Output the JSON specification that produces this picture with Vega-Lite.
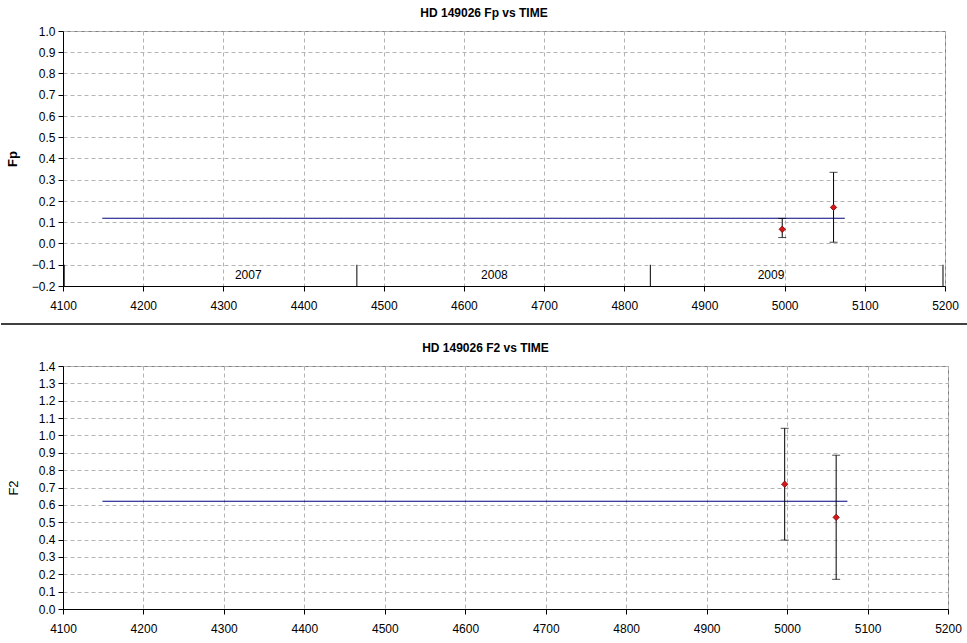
{
  "$schema": "https://vega.github.io/schema/vega-lite/v6.json",
  "padding": {"left": 0, "top": 6, "right": 0, "bottom": 0},
  "background": "white",
  "spacing": 11,
  "datasets": {
    "fp": [
      {"t": 4997, "v": 0.067, "lo": 0.028, "hi": 0.118},
      {"t": 5061, "v": 0.170, "lo": 0.006, "hi": 0.335}
    ],
    "fpfit": [
      {"t": 4149, "v": 0.119},
      {"t": 5075, "v": 0.119}
    ],
    "f2": [
      {"t": 4997, "v": 0.719, "lo": 0.397, "hi": 1.041},
      {"t": 5061, "v": 0.528, "lo": 0.171, "hi": 0.886}
    ],
    "f2fit": [
      {"t": 4149, "v": 0.621},
      {"t": 5075, "v": 0.621}
    ],
    "yearmarks": [
      {"t": 4101.5}, {"t": 4466.5}, {"t": 4832.5}, {"t": 5197.5}
    ],
    "years": [
      {"t": 4331, "year": "2007"},
      {"t": 4638, "year": "2008"},
      {"t": 4983, "year": "2009"}
    ],
    "separator": [
      {"name": "separator"}
    ]
  },
  "config": {
    "font": "Liberation Sans",
    "view": {"stroke": "#808080", "strokeWidth": 1},
    "axis": {
      "labelFont": "Liberation Sans",
      "labelFontSize": 12,
      "labelColor": "black",
      "labelOverlap": false,
      "domainColor": "black",
      "tickColor": "black",
      "tickSize": 5,
      "labelPadding": 3,
      "gridColor": "#b4b4b4",
      "gridDash": [4, 3],
      "gridWidth": 1,
      "titleFont": "Liberation Sans",
      "titleColor": "black"
    },
    "axisX": {"labelPadding": 9},
    "title": {"font": "Liberation Sans", "fontSize": 12, "fontWeight": "bold", "color": "black", "offset": 5, "dx": -20}
  },
  "vconcat": [
    {
      "title": "HD 149026 Fp  vs TIME",
      "width": 882,
      "height": 255,
      "encoding": {
        "x": {
          "field": "t", "type": "quantitative", "title": null,
          "scale": {"domain": [4100, 5200], "nice": false, "zero": false},
          "axis": {"values": [4100, 4200, 4300, 4400, 4500, 4600, 4700, 4800, 4900, 5000, 5100, 5200], "format": "d", "labelFlush": false}
        }
      },
      "layer": [
        {
          "data": {"name": "fpfit"},
          "mark": {"type": "line", "color": "#000080", "strokeWidth": 1.1},
          "encoding": {
            "y": {
              "field": "v", "type": "quantitative", "title": "Fp",
              "scale": {"domain": [-0.2, 1.0], "nice": false, "zero": false},
              "axis": {"values": [-0.2, -0.1, 0, 0.1, 0.2, 0.3, 0.4, 0.5, 0.6, 0.7, 0.8, 0.9, 1.0], "format": ".1f", "titleFontSize": 13, "titleFontWeight": "bold", "titlePadding": 12}
            }
          }
        },
        {
          "data": {"name": "yearmarks"},
          "mark": {"type": "rule", "color": "black", "strokeWidth": 1},
          "encoding": {"y": {"datum": -0.2, "axis": {"values": [-0.2, -0.1, 0, 0.1, 0.2, 0.3, 0.4, 0.5, 0.6, 0.7, 0.8, 0.9, 1.0], "format": ".1f", "titleFontSize": 13, "titleFontWeight": "bold", "titlePadding": 12, "title": "Fp"}}, "y2": {"datum": -0.1}}
        },
        {
          "data": {"name": "years"},
          "mark": {"type": "text", "font": "Liberation Sans", "fontSize": 12, "color": "black"},
          "encoding": {"y": {"datum": -0.15, "axis": {"values": [-0.2, -0.1, 0, 0.1, 0.2, 0.3, 0.4, 0.5, 0.6, 0.7, 0.8, 0.9, 1.0], "format": ".1f", "titleFontSize": 13, "titleFontWeight": "bold", "titlePadding": 12, "title": "Fp"}}, "text": {"field": "year"}}
        },
        {
          "data": {"name": "fp"},
          "mark": {"type": "rule", "color": "black", "strokeWidth": 1},
          "encoding": {"y": {"field": "lo", "type": "quantitative", "title": "Fp", "axis": {"values": [-0.2, -0.1, 0, 0.1, 0.2, 0.3, 0.4, 0.5, 0.6, 0.7, 0.8, 0.9, 1.0], "format": ".1f", "titleFontSize": 13, "titleFontWeight": "bold", "titlePadding": 12}}, "y2": {"field": "hi"}}
        },
        {
          "data": {"name": "fp"},
          "mark": {"type": "tick", "orient": "horizontal", "color": "black", "size": 8, "thickness": 1},
          "encoding": {"y": {"field": "hi", "type": "quantitative", "title": "Fp", "axis": {"values": [-0.2, -0.1, 0, 0.1, 0.2, 0.3, 0.4, 0.5, 0.6, 0.7, 0.8, 0.9, 1.0], "format": ".1f", "titleFontSize": 13, "titleFontWeight": "bold", "titlePadding": 12}}}
        },
        {
          "data": {"name": "fp"},
          "mark": {"type": "tick", "orient": "horizontal", "color": "black", "size": 8, "thickness": 1},
          "encoding": {"y": {"field": "lo", "type": "quantitative", "title": "Fp", "axis": {"values": [-0.2, -0.1, 0, 0.1, 0.2, 0.3, 0.4, 0.5, 0.6, 0.7, 0.8, 0.9, 1.0], "format": ".1f", "titleFontSize": 13, "titleFontWeight": "bold", "titlePadding": 12}}}
        },
        {
          "data": {"name": "fp"},
          "mark": {"type": "point", "shape": "diamond", "filled": true, "fill": "#d41818", "stroke": "#7a0000", "strokeWidth": 0.8, "size": 40, "opacity": 1},
          "encoding": {"y": {"field": "v", "type": "quantitative", "title": "Fp", "axis": {"values": [-0.2, -0.1, 0, 0.1, 0.2, 0.3, 0.4, 0.5, 0.6, 0.7, 0.8, 0.9, 1.0], "format": ".1f", "titleFontSize": 13, "titleFontWeight": "bold", "titlePadding": 12}}}
        }
      ]
    },
    {
      "width": 905,
      "height": 6,
      "view": {"stroke": null},
      "data": {"name": "separator"},
      "mark": {"type": "rule", "color": "black", "strokeWidth": 1.5, "clip": false},
      "encoding": {
        "x": {"datum": -62, "scale": {"domain": [0, 905], "nice": false, "zero": false}, "axis": null},
        "x2": {"datum": 905},
        "y": {"datum": 1, "scale": {"domain": [0, 1]}, "axis": null}
      }
    },
    {
      "title": "HD 149026 F2  vs TIME",
      "width": 885,
      "height": 243,
      "encoding": {
        "x": {
          "field": "t", "type": "quantitative", "title": null,
          "scale": {"domain": [4100, 5200], "nice": false, "zero": false},
          "axis": {"values": [4100, 4200, 4300, 4400, 4500, 4600, 4700, 4800, 4900, 5000, 5100, 5200], "format": "d", "labelFlush": false}
        }
      },
      "layer": [
        {
          "data": {"name": "f2fit"},
          "mark": {"type": "line", "color": "#000080", "strokeWidth": 1.1},
          "encoding": {
            "y": {
              "field": "v", "type": "quantitative", "title": "F2",
              "scale": {"domain": [0, 1.4], "nice": false, "zero": false},
              "axis": {"values": [0, 0.1, 0.2, 0.3, 0.4, 0.5, 0.6, 0.7, 0.8, 0.9, 1.0, 1.1, 1.2, 1.3, 1.4], "format": ".1f", "titleFontSize": 13, "titleFontWeight": "normal", "titlePadding": 18}
            }
          }
        },
        {
          "data": {"name": "f2"},
          "mark": {"type": "rule", "color": "black", "strokeWidth": 1},
          "encoding": {"y": {"field": "lo", "type": "quantitative", "title": "F2", "axis": {"values": [0, 0.1, 0.2, 0.3, 0.4, 0.5, 0.6, 0.7, 0.8, 0.9, 1.0, 1.1, 1.2, 1.3, 1.4], "format": ".1f", "titleFontSize": 13, "titleFontWeight": "normal", "titlePadding": 18}}, "y2": {"field": "hi"}}
        },
        {
          "data": {"name": "f2"},
          "mark": {"type": "tick", "orient": "horizontal", "color": "black", "size": 8, "thickness": 1},
          "encoding": {"y": {"field": "hi", "type": "quantitative", "title": "F2", "axis": {"values": [0, 0.1, 0.2, 0.3, 0.4, 0.5, 0.6, 0.7, 0.8, 0.9, 1.0, 1.1, 1.2, 1.3, 1.4], "format": ".1f", "titleFontSize": 13, "titleFontWeight": "normal", "titlePadding": 18}}}
        },
        {
          "data": {"name": "f2"},
          "mark": {"type": "tick", "orient": "horizontal", "color": "black", "size": 8, "thickness": 1},
          "encoding": {"y": {"field": "lo", "type": "quantitative", "title": "F2", "axis": {"values": [0, 0.1, 0.2, 0.3, 0.4, 0.5, 0.6, 0.7, 0.8, 0.9, 1.0, 1.1, 1.2, 1.3, 1.4], "format": ".1f", "titleFontSize": 13, "titleFontWeight": "normal", "titlePadding": 18}}}
        },
        {
          "data": {"name": "f2"},
          "mark": {"type": "point", "shape": "diamond", "filled": true, "fill": "#d41818", "stroke": "#7a0000", "strokeWidth": 0.8, "size": 40, "opacity": 1},
          "encoding": {"y": {"field": "v", "type": "quantitative", "title": "F2", "axis": {"values": [0, 0.1, 0.2, 0.3, 0.4, 0.5, 0.6, 0.7, 0.8, 0.9, 1.0, 1.1, 1.2, 1.3, 1.4], "format": ".1f", "titleFontSize": 13, "titleFontWeight": "normal", "titlePadding": 18}}}
        }
      ]
    }
  ]
}
